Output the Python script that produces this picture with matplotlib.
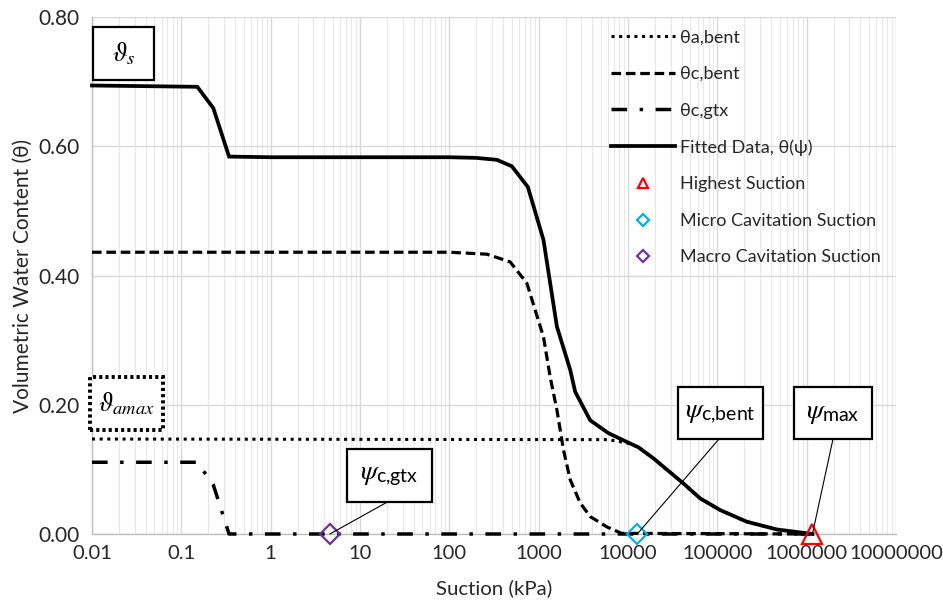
import matplotlib
matplotlib.use("Agg")
import matplotlib.pyplot as plt
from matplotlib.patches import Rectangle
from matplotlib.lines import Line2D
from matplotlib.ticker import LogLocator, FixedLocator, NullFormatter

plt.rcParams['font.family'] = ['Lato', 'DejaVu Sans']
plt.rcParams['mathtext.fontset'] = 'custom'
plt.rcParams['mathtext.rm'] = 'Lato'
plt.rcParams['mathtext.it'] = 'STIXGeneral:italic'
plt.rcParams['mathtext.bf'] = 'Lato:bold'

# ---------------- data ----------------
suction_fit = [0.01, 0.151, 0.228, 0.342, 1, 10, 100, 200, 340, 501, 757, 1132, 1600,
               2254, 2565, 3772, 6050, 10590, 13120, 19300, 41900, 64400, 107800,
               214000, 465000, 1160000]
theta_fit = [0.694, 0.692, 0.659, 0.584, 0.583, 0.583, 0.583, 0.582, 0.579, 0.569, 0.537,
             0.455, 0.321, 0.254, 0.220, 0.176, 0.156, 0.140, 0.134, 0.117, 0.078, 0.055,
             0.037, 0.019, 0.007, 0.0]

suction_cbent = [0.01, 100, 263, 480, 738, 1132, 1345, 1600, 1897, 2254, 2915, 3772,
                 5800, 8500, 1160000]
theta_cbent = [0.436, 0.436, 0.433, 0.421, 0.388, 0.305, 0.243, 0.192, 0.130, 0.084,
               0.048, 0.027, 0.011, 0.001, 0.0]

suction_abent = [0.01, 6050, 10590, 13120, 19300, 41900, 64400, 107800, 214000, 465000,
                 1160000]
theta_abent = [0.147, 0.146, 0.140, 0.134, 0.117, 0.078, 0.055, 0.037, 0.019, 0.007, 0.0]

suction_cgtx = [0.01, 0.151, 0.228, 0.342, 1160000]
theta_cgtx = [0.111, 0.111, 0.076, 0.0, 0.0]

highest_suction = 1160000
micro_cav_suction = 12700
macro_cav_suction = 4.6

series_labels = ["θa,bent", "θc,bent", "θc,gtx", "Fitted Data, θ(ψ)",
                 "Highest Suction", "Micro Cavitation Suction", "Macro Cavitation Suction"]
x_ticks = [0.01, 0.1, 1, 10, 100, 1000, 10000, 100000, 1000000, 10000000]
x_tick_labels = ["0.01", "0.1", "1", "10", "100", "1000", "10000", "100000", "1000000", "10000000"]
y_ticks = [0.0, 0.2, 0.4, 0.6, 0.8]
y_tick_labels = ["0.00", "0.20", "0.40", "0.60", "0.80"]

# ---------------- figure ----------------
fig = plt.figure(figsize=(9.43, 6.02), dpi=100)
ax = fig.add_axes([92 / 943, (602 - 534) / 602, (896 - 92) / 943, (534 - 17) / 602])

ax.set_xscale('log')
ax.set_xlim(0.01, 1e7)
ax.set_ylim(0, 0.8)

# grid
ax.xaxis.set_major_locator(FixedLocator(x_ticks))
ax.xaxis.set_minor_locator(LogLocator(base=10, subs=range(2, 10), numticks=100))
ax.xaxis.set_minor_formatter(NullFormatter())
ax.set_xticklabels(x_tick_labels)
ax.set_yticks(y_ticks)
ax.set_yticklabels(y_tick_labels)
ax.grid(which='major', axis='both', color='#d9d9d9', lw=1.0, zorder=0)
ax.grid(which='minor', axis='x', color='#e8e8e8', lw=0.8, zorder=0)
ax.set_axisbelow(True)
ax.tick_params(which='both', length=0, labelsize=14.5, colors='#262626')
ax.tick_params(axis='x', pad=8)
ax.tick_params(axis='y', pad=9)
ax.tick_params(axis='y', labelsize=15)
for s in ['top', 'right']:
    ax.spines[s].set_visible(False)
for s in ['left', 'bottom']:
    ax.spines[s].set_color('#bfbfbf')
    ax.spines[s].set_linewidth(1.0)

l1, = ax.plot(suction_abent, theta_abent, color='black', lw=2.2, ls=(0, (1, 1.5)),
              label=series_labels[0], clip_on=False, zorder=3)
l2, = ax.plot(suction_cbent, theta_cbent, color='black', lw=2.3, ls=(0, (3, 1.5)),
              label=series_labels[1], clip_on=False, zorder=3)
l3, = ax.plot(suction_cgtx, theta_cgtx, color='black', lw=2.5, ls=(0, (4.5, 3.6, 1, 3.6)),
              label=series_labels[2], clip_on=False, zorder=3)
l4, = ax.plot(suction_fit, theta_fit, color='black', lw=2.7, ls='-',
              label=series_labels[3], clip_on=False, zorder=4, solid_joinstyle='miter')

ax.plot([highest_suction], [0], ls='none', marker='^', ms=14, mfc='none', mec='#ff0000',
        mew=1.6, clip_on=False, zorder=5)
ax.plot([micro_cav_suction], [0], ls='none', marker='D', ms=10, mfc='none', mec='#00b0f0',
        mew=1.6, clip_on=False, zorder=5)
ax.plot([macro_cav_suction], [0], ls='none', marker='D', ms=10, mfc='none', mec='#7030a0',
        mew=1.6, clip_on=False, zorder=5)

h5 = Line2D([], [], ls='none', marker='^', ms=7, mfc='none', mec='#ff0000', mew=1.6)
h6 = Line2D([], [], ls='none', marker='D', ms=6, mfc='none', mec='#00b0f0', mew=1.6)
h7 = Line2D([], [], ls='none', marker='D', ms=6, mfc='none', mec='#7030a0', mew=1.6)

leg = ax.legend([l1, l2, l3, l4, h5, h6, h7], series_labels, loc='upper left',
                bbox_to_anchor=(0.628, 1.004), frameon=False, fontsize=13,
                handlelength=3.5, handletextpad=0.3, labelspacing=1.14, borderpad=0.3)
for t in leg.get_texts():
    t.set_color('#262626')

ax.set_xlabel('Suction (kPa)', fontsize=14.7, color='#262626', labelpad=12)
ax.set_ylabel('Volumetric Water Content (θ)', fontsize=15, color='#262626')
ax.yaxis.set_label_coords(-0.074, 0.5)

# ---------------- annotation boxes ----------------
def px_to_ax(px, py):
    return ((px - 92) / 804, (534 - py) / 517)

def box(x0, y0, x1, y1, text, ls='-', size=17, lw_box=1.6):
    a0 = px_to_ax(x0, y1)
    a1 = px_to_ax(x1, y0)
    r = Rectangle(a0, a1[0] - a0[0], a1[1] - a0[1], transform=ax.transAxes,
                  fill=True, fc='white', ec='black', lw=lw_box, ls=ls, clip_on=False, zorder=6)
    ax.add_patch(r)
    ax.text((a0[0] + a1[0]) / 2, (a0[1] + a1[1]) / 2, text, transform=ax.transAxes,
            ha='center', va='center', fontsize=size, zorder=7)

box(93, 27, 154, 80, r'$\vartheta_{s}$', size=19)
box(90, 377, 163, 430, r'$\vartheta_{amax}$', ls=(0, (0.8, 0.8)), size=19, lw_box=2.8)
box(346.5, 449, 432, 502, r'$\psi_{\mathrm{c{,}gtx}}$', size=20)
box(677.5, 387, 763, 439, r'$\psi_{\mathrm{c{,}bent}}$', size=20)
box(794, 387, 872, 439, r'$\psi_{\mathrm{max}}$', size=20)

for start, target in [((387.4, 502), macro_cav_suction),
                      ((719, 439), micro_cav_suction),
                      ((833, 439), highest_suction)]:
    ax.annotate('', xy=(target, 0.0), xycoords='data',
                xytext=px_to_ax(*start), textcoords='axes fraction',
                arrowprops=dict(arrowstyle='-', color='black', lw=0.8,
                                shrinkA=0, shrinkB=0), zorder=6)

fig.savefig('out.png', dpi=100)
